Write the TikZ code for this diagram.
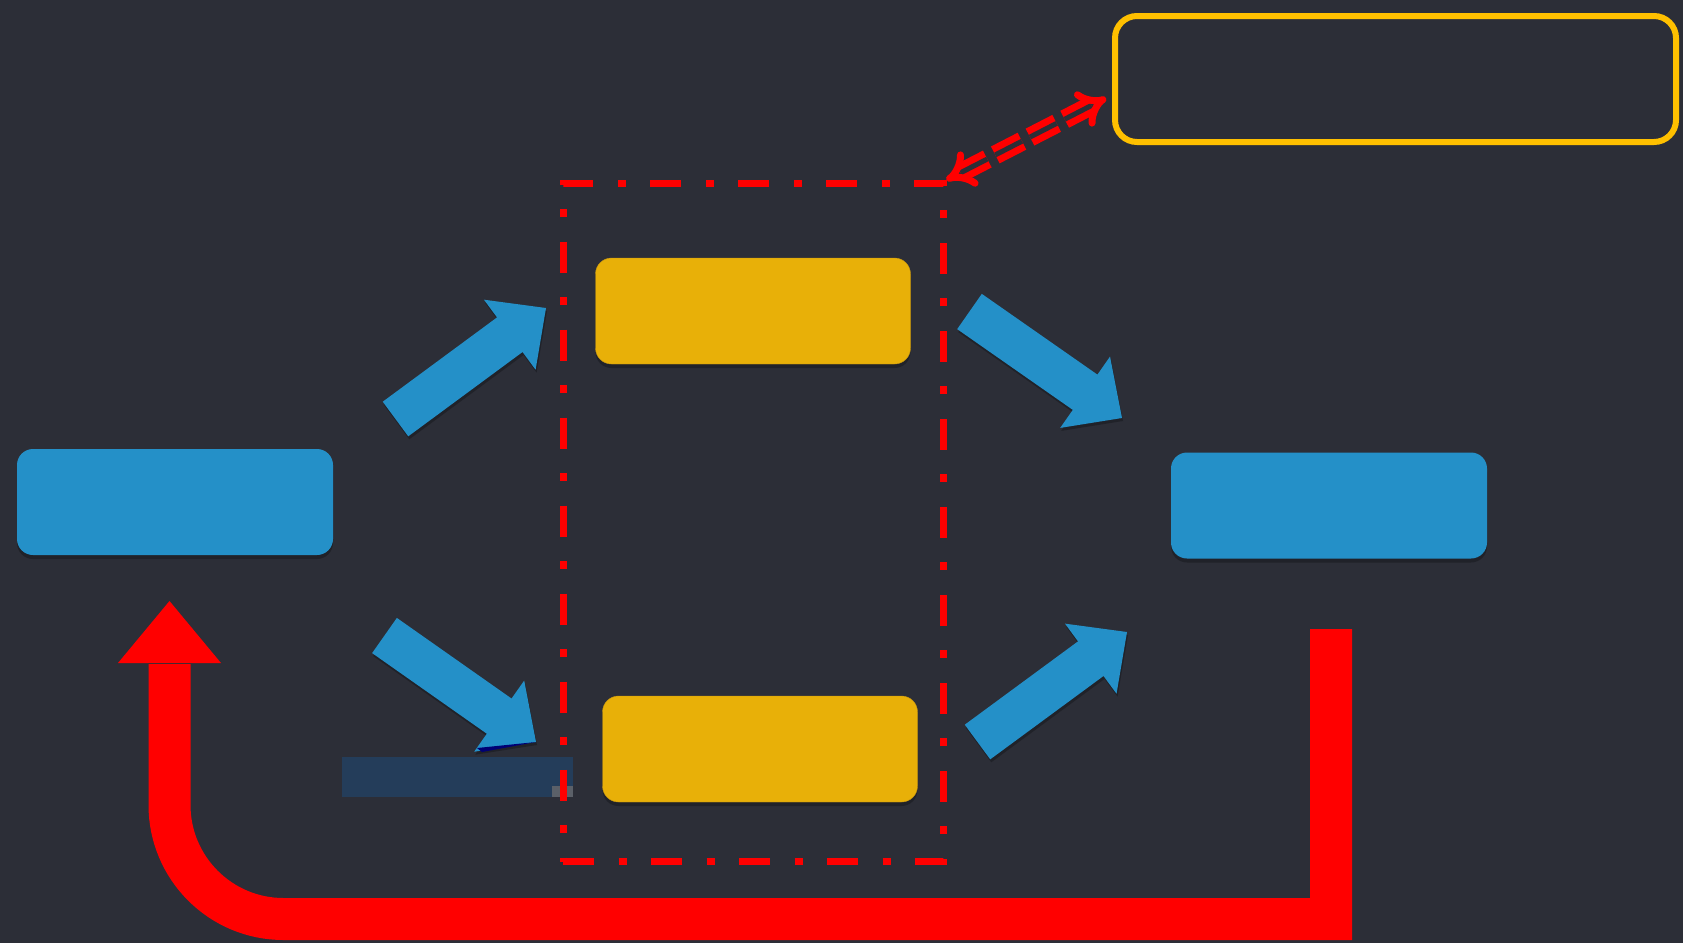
\documentclass[tikz,border=0pt]{standalone}
\usepackage{xcolor}
\usepackage{tikz}
\usetikzlibrary{arrows.meta,shapes,calc,shadows}

% 块状箭头: #1 尾部中点, #2 箭头尖
\newcommand{\blockarrow}[2]{%
  \coordinate (#1n) at ($(#2)!45pt!(#1)$);
  \fill[barrow] ($(#1)!21.5pt!90:(#2)$) -- ($(#1n)!21.5pt!90:(#2)$)
    -- ($(#1n)!43.5pt!90:(#2)$) -- (#2) -- ($(#1n)!43.5pt!-90:(#2)$)
    -- ($(#1n)!21.5pt!-90:(#2)$) -- ($(#1)!21.5pt!-90:(#2)$) -- cycle;
}

\begin{document}
\begin{tikzpicture}[x=1pt,y=-1pt]
    \definecolor{mybg}{RGB}{44,46,55}
    \definecolor{myblue}{RGB}{36,144,200}
    \definecolor{mygold}{RGB}{232,176,8}
    \definecolor{mygoldd}{RGB}{196,148,18}
    \definecolor{myyellow}{RGB}{255,192,0}
    \definecolor{myred}{RGB}{255,0,0}
    \definecolor{mynavy}{RGB}{36,61,90}
    \definecolor{mygrey}{RGB}{91,96,104}

    \tikzstyle{box}=[rectangle,rounded corners=16pt,inner sep=0pt,minimum width=316pt,minimum height=106pt,
      drop shadow={shadow xshift=0pt,shadow yshift=-4pt,opacity=0.25,fill=black}]  % 圆角矩形
    \tikzstyle{bluebox}=[box,fill=myblue]
    \tikzstyle{goldbox}=[box,fill=mygold,draw=mygoldd,thin]
    \tikzstyle{notebox}=[rectangle,rounded corners=22pt,draw=myyellow,line width=6pt,inner sep=0pt,
      minimum width=561pt,minimum height=126pt]
    \tikzstyle{frame}=[rectangle,draw=myred,line width=7pt,inner sep=0pt,
      dash pattern=on 31pt off 24.5pt on 8pt off 24.5pt]  % 点划线框
    \tikzstyle{barrow}=[fill=myblue,drop shadow={shadow xshift=1pt,shadow yshift=-3pt,opacity=0.25,fill=black}]
    \tikzstyle{dbl}=[draw=myred,line width=7pt,double=mybg,double distance=5pt,
      dash pattern=on 30pt off 9pt,{Implies}-{Implies}]
    \tikzstyle{back}=[draw=myred,line width=42pt]

    % 背景
    \fill[mybg] (0,0) rectangle (1683,943);
    \useasboundingbox (0,0) rectangle (1683,943);

    % 残留色块
    \fill[mynavy] (342,757) rectangle (573,797);
    \fill[mygrey] (552,786) rectangle (573,797);

    % 定义node
    \node[bluebox](src) at (175,502) {};
    \node[bluebox](dst) at (1329,505.5) {};
    \node[goldbox,minimum width=315pt](up) at (753,311) {};
    \node[goldbox,minimum width=315pt](low) at (760,749) {};
    \node[notebox](note) at (1395.5,79) {};
    \node[frame,minimum width=380pt,minimum height=678pt](grp) at (753,522.5) {};

    % 块状箭头
    \coordinate (t1) at (395.5,419);  \coordinate (h1) at (546,308);
    \coordinate (t2) at (969.5,311.5); \coordinate (h2) at (1122,418);
    \coordinate (t3) at (384.5,635.5); \coordinate (h3) at (536,742);
    \coordinate (t4) at (977.5,742);   \coordinate (h4) at (1127,632);
    \blockarrow{t1}{h1}
    \blockarrow{t2}{h2}
    \blockarrow{t3}{h3}
    \blockarrow{t4}{h4}
    \fill[blue!45!black] (477,748) -- (536,742) -- (482,752) -- cycle;

    % 开始画线
    \draw[dbl](grp.north east) -- ([xshift=-6pt,yshift=-19pt]note.west);

    \coordinate (bs) at (1331,629);
    \coordinate (bc) at (1331,919);
    \coordinate (bt) at (169.5,601);
    \draw[back](bs) -- (bc) -- (283.5,919) arc[start angle=90,end angle=180,radius=114] -- (169.5,664);
    \fill[myred](118,663) -- (bt) -- (221,663) -- cycle;
\end{tikzpicture}
\end{document}
